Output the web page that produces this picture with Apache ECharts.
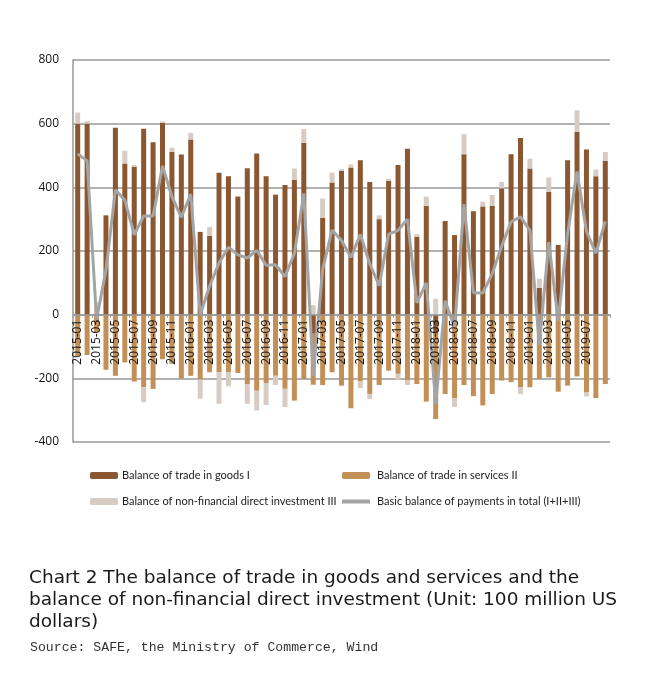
<!DOCTYPE html>
<html>
<head>
<meta charset="utf-8">
<script src="https://cdn.jsdelivr.net/npm/echarts@6/dist/echarts.min.js"></script>
<style>html,body{margin:0;padding:0;background:#fff;}#c{width:648px;height:687px;}</style>
</head>
<body>
<div id="c"></div>
<script>
const months = [];
for (let y = 2015; y <= 2019; y++) {
  for (let m = 1; m <= 12; m++) {
    if (y === 2019 && m > 9) break;
    months.push(y + '-' + (m < 10 ? '0' + m : m));
  }
}
const goods = [
  600, 600, 3, 312, 587, 475, 465, 584, 542, 602, 511, 503,
  550, 260, 248, 446, 435, 371, 460, 506, 435, 377, 407, 423,
  540, -60, 304, 415, 452, 462, 485, 417, 300, 421, 470, 521,
  244, 342, -60, 294, 250, 504, 325, 340, 342, 397, 504, 555,
  459, 84, 386, 219, 485, 574, 519, 435, 483
];
const services = [
  -130, -127, -55, -173, -192, -150, -210, -228, -233, -140, -154, -200,
  -192, -204, -181, -181, -181, -183, -218, -239, -215, -192, -233, -270,
  -202, -160, -221, -181, -223, -294, -210, -249, -221, -176, -186, -207,
  -218, -273, -268, -249, -262, -221, -256, -285, -249, -207, -212, -228,
  -228, -202, -197, -242, -223, -194, -243, -262, -218
];
const investment = [
  35, 8, 37, 0, 0, 40, 5, -47, 0, 5, 14, 0,
  21, -60, 27, -99, -44, 0, -62, -62, -69, -29, -57, 36,
  43, 30, 61, 31, 5, 10, -21, -16, 12, 6, -18, -14,
  9, 29, 50, 0, -28, 63, 0, 15, 34, 20, 0, -21,
  31, 29, 45, 0, 0, 68, -14, 21, 28
];
const total = [
  505, 483, -15, 140, 392, 360, 251, 310, 310, 467, 371, 306,
  379, 0, 90, 162, 212, 188, 178, 202, 155, 157, 120, 192,
  381, -192, 143, 266, 233, 180, 252, 160, 91, 253, 265, 300,
  37, 100, -280, 44, -40, 347, 69, 68, 129, 215, 292, 307,
  265, -95, 228, -20, 255, 450, 262, 193, 293
];
const yTicks = [-400, -200, 0, 200, 400, 600, 800];
const lastLabel = '2019-07';

const names = [
  'Balance of trade in goods I',
  'Balance of trade in services II',
  'Balance of non-financial direct investment III',
  'Basic balance of payments in total (I+II+III)'
];
const colors = ['#8B5730', '#C28F57', '#D6CCC3', '#A4A4A4'];

const gridTop = 60, gridBottom = 245, H = 687;
const plotH = H - gridTop - gridBottom;
const yMin = yTicks[0], yMax = yTicks[yTicks.length - 1];
// shift the category axis up so it sits on the zero line
const zeroOffset = -plotH * (0 - yMin) / (yMax - yMin);
const lastLabelIdx = months.indexOf(lastLabel);

const chart = echarts.init(document.getElementById('c'));
chart.setOption({
  animation: false,
  backgroundColor: '#fff',
  title: [{
    text: 'Chart 2 The balance of trade in goods and services and the\nbalance of non-financial direct investment (Unit: 100 million US\ndollars)',
    left: 29, top: 567, padding: 0,
    textStyle: { fontFamily: 'DejaVu Sans', fontSize: 18.5, fontWeight: 'normal', color: '#1a1a1a', lineHeight: 22 }
  }, {
    text: 'Source: SAFE, the Ministry of Commerce, Wind',
    left: 30, top: 641, padding: 0,
    textStyle: { fontFamily: 'Liberation Mono', fontSize: 13.2, fontWeight: 'normal', color: '#333' }
  }],
  legend: [{
    orient: 'vertical', left: 90, top: 470, padding: 0, itemWidth: 28, itemHeight: 7, itemGap: 15,
    data: [names[0], names[2]],
    textStyle: { fontFamily: 'Lato', fontSize: 11, color: '#222', padding: [0, 0, 0, -1] }
  }, {
    orient: 'vertical', left: 342, top: 470, padding: 0, itemWidth: 28, itemHeight: 7, itemGap: 15,
    data: [names[1], { name: names[3], icon: 'path://M0,0L28,0L28,4L0,4Z' }],
    textStyle: { fontFamily: 'Lato', fontSize: 11, color: '#222', padding: [0, 0, 0, 2] }
  }],
  grid: { left: 73, right: 38, top: gridTop, bottom: gridBottom, containLabel: false },
  xAxis: {
    type: 'category',
    data: months,
    boundaryGap: true,
    position: 'bottom',
    offset: zeroOffset,
    z: 20,
    axisLine: { onZero: false, lineStyle: { color: '#999', width: 1.5 } },
    axisTick: { show: true, length: 3, lineStyle: { color: '#999' } },
    axisLabel: {
      interval: function (idx) { return idx % 2 === 0 && idx <= lastLabelIdx; },
      rotate: 90, margin: 5, fontFamily: 'Open Sans', fontSize: 12, color: '#111'
    }
  },
  yAxis: {
    type: 'value', min: yMin, max: yMax, interval: 200,
    axisLine: { show: true, lineStyle: { color: '#999', width: 1.5 } },
    axisTick: { show: false },
    splitLine: { show: true, lineStyle: { color: '#999', width: 1.5 } },
    axisLabel: { fontFamily: 'Open Sans', fontSize: 12, color: '#111', margin: 14 }
  },
  series: [
    { name: names[0], type: 'bar', stack: 'all', data: goods, barWidth: 5, itemStyle: { color: colors[0] } },
    { name: names[1], type: 'bar', stack: 'all', data: services, barWidth: 5, itemStyle: { color: colors[1] } },
    { name: names[2], type: 'bar', stack: 'all', data: investment, barWidth: 5, itemStyle: { color: colors[2] } },
    { name: names[3], type: 'line', data: total, symbol: 'none', z: 5,
      lineStyle: { color: colors[3], width: 3 }, itemStyle: { color: colors[3] } }
  ]
});
</script>
</body>
</html>
